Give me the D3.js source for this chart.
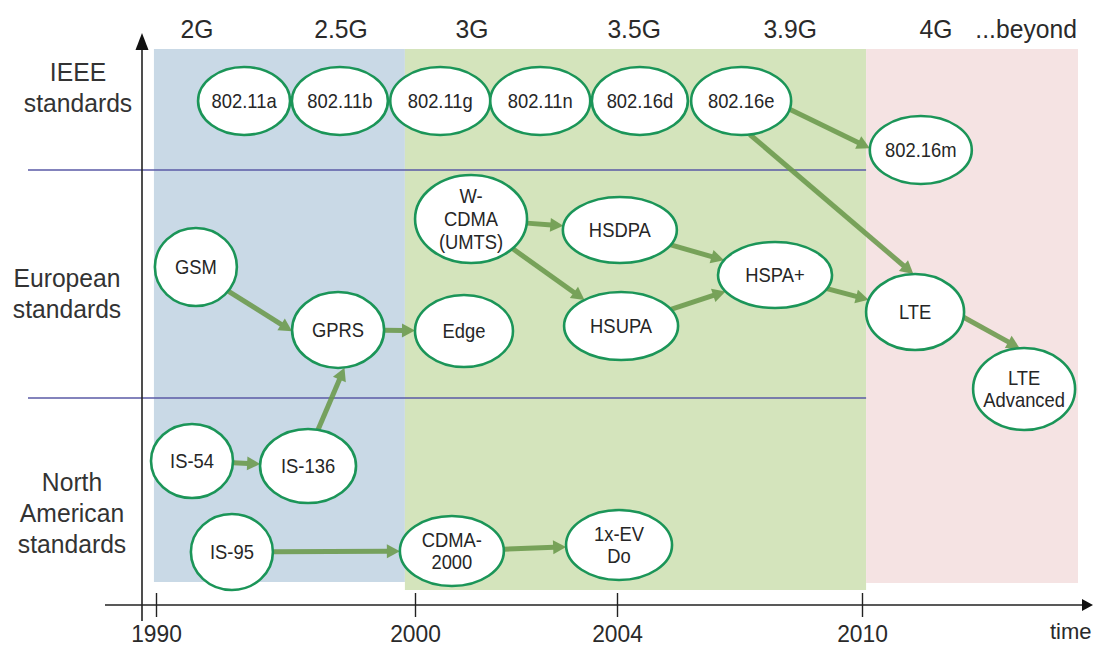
<!DOCTYPE html>
<html>
<head>
<meta charset="utf-8">
<script src="https://cdn.jsdelivr.net/npm/d3@7"></script>
<style>
  html, body { margin: 0; padding: 0; background: #ffffff; }
  svg { display: block; }
  text { font-family: "Liberation Sans", Arial, Helvetica, sans-serif; fill: #2a2a2a; }
</style>
</head>
<body>
<div id="chart"></div>
<script>
// ---------------- DATA ----------------
const years = [1990, 2000, 2004, 2010];
const tickLabels = ["1990", "2000", "2004", "2010"];
const axisTitle = "time";

const generations = ["2G", "2.5G", "3G", "3.5G", "3.9G", "4G", "...beyond"];
const generationYears = [1991.58, 1997.14, 2001.13, 2004.42, 2008.24, 2011.81, 2014.02];

const eraNames = ["2G era", "3G era", "4G era"];
const eraStarts = [1989.92, 1999.61, 2010.1];
const eraEnds = [1999.61, 2010.1, 2015.29];

const rowNames = ["IEEE\nstandards", "European\nstandards", "North\nAmerican\nstandards"];
const rowDividerLevels = [13.0, 35.8];

const nodeNames = [
  "802.11a", "802.11b", "802.11g", "802.11n", "802.16d", "802.16e", "802.16m",
  "GSM", "GPRS", "Edge", "W-\nCDMA\n(UMTS)", "HSDPA", "HSUPA", "HSPA+", "LTE", "LTE\nAdvanced",
  "IS-54", "IS-136", "IS-95", "CDMA-\n2000", "1x-EV\nDo"
];
const nodeYears = [
  1993.40, 1997.10, 2000.50, 2002.48, 2004.56, 2007.04, 2011.44,
  1991.54, 1997.03, 2000.97, 2001.11, 2004.07, 2004.10, 2007.87, 2011.30, 2013.97,
  1991.39, 1995.87, 1992.93, 2000.73, 2004.05
];
const nodeLevels = [
  6.1, 6.1, 6.1, 6.1, 6.1, 6.1, 11.0,
  22.7, 29.0, 29.1, 17.9, 19.0, 28.6, 23.5, 27.2, 34.9,
  42.1, 42.6, 51.2, 51.1, 50.5
];

const linkSources = [
  "802.16e", "802.16e",
  "GSM", "IS-136", "GPRS",
  "W-\nCDMA\n(UMTS)", "W-\nCDMA\n(UMTS)", "HSDPA", "HSUPA", "HSPA+", "LTE",
  "IS-54", "IS-95", "CDMA-\n2000"
];
const linkTargets = [
  "802.16m", "LTE",
  "GPRS", "GPRS", "Edge",
  "HSDPA", "HSUPA", "HSPA+", "HSPA+", "LTE", "LTE\nAdvanced",
  "IS-136", "CDMA-\n2000", "1x-EV\nDo"
];

// ---------------- LAYOUT / STYLE ----------------
const W = 1093, H = 648;
const ellipseSize = {
  "802.11a": [46, 34], "802.11b": [48, 34], "802.11g": [50, 34], "802.11n": [50, 34],
  "802.16d": [48, 34], "802.16e": [50, 34], "802.16m": [51, 34],
  "GSM": [41, 39], "GPRS": [46, 38], "Edge": [49, 36], "W-\nCDMA\n(UMTS)": [56, 44],
  "HSDPA": [57, 33], "HSUPA": [57, 34], "HSPA+": [57, 33], "LTE": [49, 38],
  "LTE\nAdvanced": [51, 41], "IS-54": [41, 37], "IS-136": [48, 37], "IS-95": [41, 38],
  "CDMA-\n2000": [52, 35], "1x-EV\nDo": [53, 35]
};
// optional port angles (degrees, parametric on the ellipse) for source / target
const linkPorts = {
  "802.16e>802.16m": [14, 183],
  "802.16e>LTE": [80, -92],
  "GSM>GPRS": [38, 178],
  "IS-136>GPRS": [-78, 82],
  "LTE>LTE\nAdvanced": [8, -95]
};
const rowLabelX = [78, 67, 72];
const rowLabelBaseline = [81, 287, 491];
const eraColors = ["#c9d9e6", "#d4e4bc", "#f5e3e3"];
const eraBottom = [582, 590, 583];

const x = d3.scaleLinear().domain(years).range([156, 415, 617, 862]);
const y = d3.scaleLinear().domain([0, 56]).range([40, 600]);

const svg = d3.select("#chart").append("svg").attr("width", W).attr("height", H);

// era bands
svg.append("g").selectAll("rect").data(eraNames).join("rect")
  .attr("x", (d, i) => x(eraStarts[i]))
  .attr("y", 49)
  .attr("width", (d, i) => x(eraEnds[i]) - x(eraStarts[i]))
  .attr("height", (d, i) => eraBottom[i] - 49)
  .attr("fill", (d, i) => eraColors[i]);

// generation labels
svg.append("g").selectAll("text").data(generations).join("text")
  .attr("transform", (d, i) => `translate(${x(generationYears[i])},38) scale(0.95,1)`)
  .attr("text-anchor", "middle")
  .style("font-size", "26px")
  .text(d => d);

// row dividers
svg.append("g").selectAll("line").data(rowDividerLevels).join("line")
  .attr("x1", 28).attr("x2", x(2010.1))
  .attr("y1", d => y(d)).attr("y2", d => y(d))
  .attr("stroke", "#5a5aa6").attr("stroke-width", 1.3);

// row labels
rowNames.forEach((name, i) => {
  const t = svg.append("text")
    .attr("transform", `translate(${rowLabelX[i]},${rowLabelBaseline[i]}) scale(0.95,1)`)
    .attr("text-anchor", "middle")
    .style("font-size", "26px").style("fill", "#333");
  name.split("\n").forEach((ln, j) => {
    t.append("tspan").attr("x", 0).attr("y", j * 31).text(ln);
  });
});

// axes
const axisY = 605;
svg.append("line").attr("x1", 105).attr("x2", 1084).attr("y1", axisY).attr("y2", axisY)
  .attr("stroke", "#222").attr("stroke-width", 1.6);
svg.append("path").attr("d", `M1093,${axisY} L1082,${axisY - 6} L1082,${axisY + 6} Z`).attr("fill", "#111");
svg.append("line").attr("x1", 142).attr("x2", 142).attr("y1", 621).attr("y2", 45)
  .attr("stroke", "#222").attr("stroke-width", 1.6);
svg.append("path").attr("d", `M142,33 L135.5,50 L148.5,50 Z`).attr("fill", "#111");

const xAxis = d3.axisBottom(x).tickValues(years).tickFormat((d, i) => tickLabels[i]).tickSize(12);
const gx = svg.append("g").attr("transform", `translate(0,${axisY})`).call(xAxis);
gx.select(".domain").remove();
gx.selectAll(".tick line").attr("y1", -12).attr("y2", 12).attr("stroke", "#222").attr("stroke-width", 1.4);
gx.selectAll(".tick text")
  .attr("y", 0).attr("dy", 0)
  .attr("transform", "translate(0,37) scale(0.95,1)")
  .style("font-size", "24px").style("font-family", "'Liberation Sans', Arial, sans-serif")
  .attr("fill", "#2a2a2a");
svg.append("text").attr("x", 1050).attr("y", 639).style("font-size", "22px").text(axisTitle);

// nodes
const nodes = nodeNames.map((n, i) => ({
  name: n, cx: x(nodeYears[i]), cy: y(nodeLevels[i]),
  rx: ellipseSize[n][0], ry: ellipseSize[n][1]
}));
const byName = new Map(nodes.map(d => [d.name, d]));

function boundaryToward(a, tx, ty) {
  const dx = tx - a.cx, dy = ty - a.cy;
  const t = 1 / Math.sqrt((dx / a.rx) ** 2 + (dy / a.ry) ** 2);
  return [a.cx + dx * t, a.cy + dy * t];
}
function portPoint(a, deg) {
  const r = deg * Math.PI / 180;
  return [a.cx + a.rx * Math.cos(r), a.cy + a.ry * Math.sin(r)];
}

// links
const linkG = svg.append("g").attr("opacity", 0.88);
linkSources.forEach((s, i) => {
  const a = byName.get(s), b = byName.get(linkTargets[i]);
  const key = s + ">" + linkTargets[i];
  const port = linkPorts[key];
  let p0 = port ? portPoint(a, port[0]) : boundaryToward(a, b.cx, b.cy);
  let p1 = port ? portPoint(b, port[1]) : boundaryToward(b, a.cx, a.cy);
  const dx = p1[0] - p0[0], dy = p1[1] - p0[1];
  const L = Math.hypot(dx, dy), ux = dx / L, uy = dy / L;
  const head = 13, half = 7;
  const bx = p1[0] - ux * head, by = p1[1] - uy * head;
  linkG.append("line")
    .attr("x1", p0[0]).attr("y1", p0[1]).attr("x2", bx + ux * 1).attr("y2", by + uy * 1)
    .attr("stroke", "#6b9a4c").attr("stroke-width", 5);
  linkG.append("path")
    .attr("d", `M${p1[0]},${p1[1]} L${bx - uy * half},${by + ux * half} L${bx + uy * half},${by - ux * half} Z`)
    .attr("fill", "#6b9a4c");
});

// ellipses
const ng = svg.append("g").selectAll("g").data(nodes).join("g");
ng.append("ellipse")
  .attr("cx", d => d.cx).attr("cy", d => d.cy)
  .attr("rx", d => d.rx).attr("ry", d => d.ry)
  .attr("fill", "#ffffff").attr("stroke", "#1b9558").attr("stroke-width", 2.6);
ng.each(function(d) {
  const lines = d.name.split("\n");
  const lh = 23;
  const t = d3.select(this).append("text")
    .attr("transform", `translate(${d.cx},${d.cy}) scale(0.92,1)`)
    .attr("text-anchor", "middle")
    .style("font-size", "20px").style("fill", "#262626");
  lines.forEach((ln, j) => {
    t.append("tspan").attr("x", 0)
      .attr("y", (j - (lines.length - 1) / 2) * lh + 7)
      .text(ln);
  });
});
</script>
</body>
</html>
